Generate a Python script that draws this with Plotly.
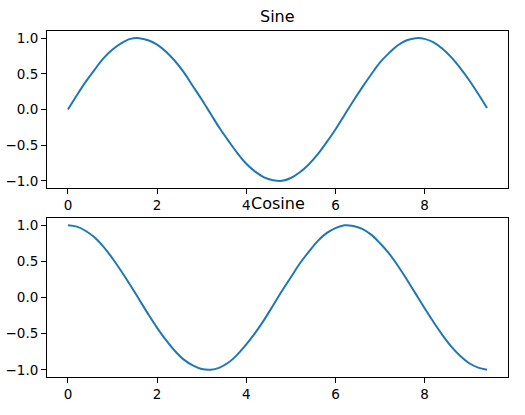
import plotly.graph_objects as go

x_vals = [0.0, 0.2, 0.4, 0.6, 0.8, 1.0, 1.2, 1.4, 1.6, 1.8, 2.0, 2.2, 2.4, 2.6, 2.8, 3.0,
          3.2, 3.4, 3.6, 3.8, 4.0, 4.2, 4.4, 4.6, 4.8, 5.0, 5.2, 5.4, 5.6, 5.8, 6.0, 6.2,
          6.4, 6.6, 6.8, 7.0, 7.2, 7.4, 7.6, 7.8, 8.0, 8.2, 8.4, 8.6, 8.8, 9.0, 9.2, 9.4]
sine_vals = [0.00, 0.20, 0.39, 0.56, 0.72, 0.84, 0.93, 0.99, 1.00, 0.97, 0.91, 0.81, 0.68, 0.52, 0.33, 0.14,
             -0.06, -0.26, -0.44, -0.61, -0.76, -0.87, -0.95, -0.99, -1.00, -0.96, -0.88, -0.77, -0.63, -0.46, -0.28, -0.08,
             0.12, 0.31, 0.49, 0.66, 0.79, 0.90, 0.97, 1.00, 0.99, 0.94, 0.85, 0.73, 0.58, 0.41, 0.22, 0.02]
cosine_vals = [1.00, 0.98, 0.92, 0.83, 0.70, 0.54, 0.36, 0.17, -0.03, -0.23, -0.42, -0.59, -0.74, -0.86, -0.94, -0.99,
               -1.00, -0.97, -0.90, -0.79, -0.65, -0.49, -0.31, -0.11, 0.09, 0.28, 0.47, 0.63, 0.78, 0.89, 0.96, 1.00,
               0.99, 0.95, 0.87, 0.75, 0.61, 0.44, 0.25, 0.05, -0.15, -0.34, -0.52, -0.68, -0.81, -0.91, -0.97, -1.00]
titles = ["Sine", "Cosine"]
x_ticks = [0, 2, 4, 6, 8]
y_ticks = [-1.0, -0.5, 0.0, 0.5, 1.0]

W, H = 525, 415
line_color = "#1f77b4"
font = "DejaVu Sans"

fig = go.Figure()
fig.add_trace(go.Scatter(x=x_vals, y=sine_vals, mode="lines", line=dict(color=line_color, width=2, shape="spline"),
                         xaxis="x", yaxis="y", showlegend=False))
fig.add_trace(go.Scatter(x=x_vals, y=cosine_vals, mode="lines", line=dict(color=line_color, width=2, shape="spline"),
                         xaxis="x2", yaxis="y2", showlegend=False))

L, R, T, B = 47, 508, 31, 377
ph = B - T
ydom_top = [(B - 188) / ph, 1.0]
ydom_bot = [0.0, (B - 218) / ph]

ax_common = dict(showgrid=False, zeroline=False, showline=True, linecolor="black", linewidth=1, mirror=True,
                 ticks="outside", ticklen=5, tickwidth=1, tickcolor="black", automargin=False,
                 tickfont=dict(family=font, size=13.5, color="black"))

fig.update_layout(
    width=W, height=H,
    margin=dict(l=L, r=W - R, t=T, b=H - B, pad=0, autoexpand=False),
    paper_bgcolor="white", plot_bgcolor="white",
    xaxis=dict(domain=[0, 1], anchor="y", range=[-0.47, 9.87], tickvals=x_ticks, **ax_common),
    yaxis=dict(domain=ydom_top, anchor="x", range=[-1.1, 1.1], tickvals=y_ticks, tickformat=".1f", **ax_common),
    xaxis2=dict(domain=[0, 1], anchor="y2", range=[-0.47, 9.87], tickvals=x_ticks, **ax_common),
    yaxis2=dict(domain=ydom_bot, anchor="x2", range=[-1.1, 1.1], tickvals=y_ticks, tickformat=".1f", **ax_common),
)

for title, dom in zip(titles, [ydom_top, ydom_bot]):
    fig.add_annotation(text=title, x=0.5, y=dom[1], xref="paper", yref="paper",
                       xanchor="center", yanchor="bottom", yshift=3, showarrow=False,
                       font=dict(family=font, size=16, color="black"))

fig.write_html("out.html", config={"displayModeBar": False},
               post_script="document.body.style.margin='0';document.body.style.overflow='hidden';")
